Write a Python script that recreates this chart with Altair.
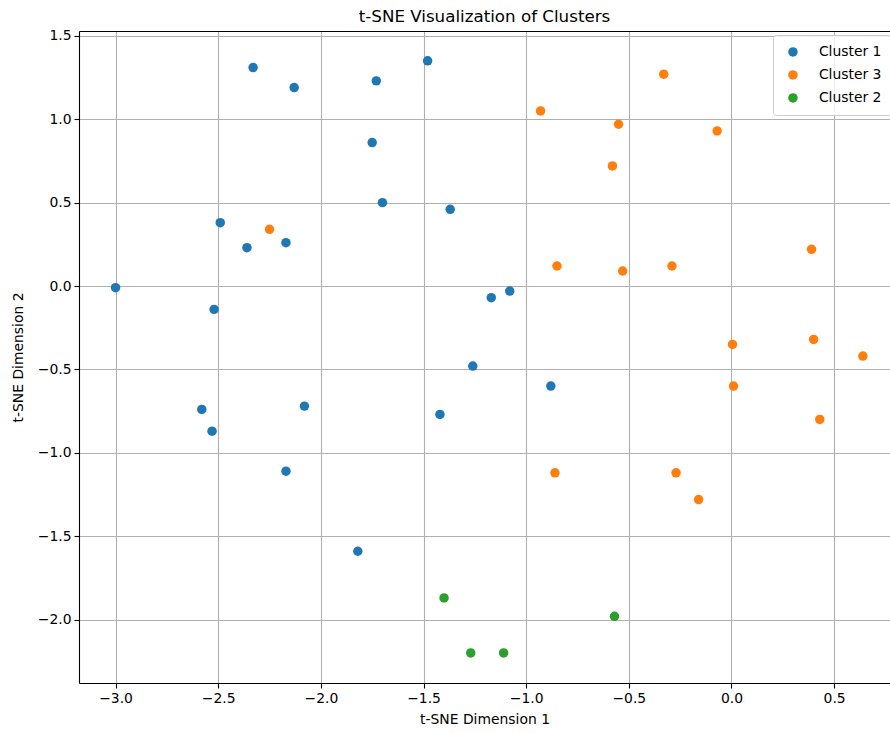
import altair as alt
import pandas as pd

# Cluster 1 (blue)
c1_x = [-3.00, -2.33, -2.13, -1.73, -1.48, -1.75, -1.70, -1.37, -2.49, -2.36, -2.17,
        -2.52, -2.58, -2.53, -2.08, -2.17, -1.17, -1.08, -1.26, -0.88, -1.42, -1.82]
c1_y = [-0.01, 1.31, 1.19, 1.23, 1.35, 0.86, 0.50, 0.46, 0.38, 0.23, 0.26,
        -0.14, -0.74, -0.87, -0.72, -1.11, -0.07, -0.03, -0.48, -0.60, -0.77, -1.59]
# Cluster 3 (orange)
c3_x = [-2.25, -0.93, -0.33, -0.55, -0.07, -0.58, -0.85, -0.53, -0.29, 0.39,
        0.005, 0.40, 0.64, 0.01, 0.43, -0.86, -0.27, -0.16]
c3_y = [0.34, 1.05, 1.27, 0.97, 0.93, 0.72, 0.12, 0.09, 0.12, 0.22,
        -0.35, -0.32, -0.42, -0.60, -0.80, -1.12, -1.12, -1.28]
# Cluster 2 (green)
c2_x = [-1.40, -1.27, -1.11, -0.57]
c2_y = [-1.87, -2.20, -2.20, -1.98]

cluster_names = ["Cluster 1", "Cluster 3", "Cluster 2"]
cluster_colors = ["#1f77b4", "#ff7f0e", "#2ca02c"]

rows = []
for name, xs, ys in [("Cluster 1", c1_x, c1_y), ("Cluster 3", c3_x, c3_y), ("Cluster 2", c2_x, c2_y)]:
    for a, b in zip(xs, ys):
        rows.append({"x": a, "y": b, "cluster": name})
df = pd.DataFrame(rows)

FONT = "DejaVu Sans"
xscale = alt.Scale(domain=[-3.178, 0.772], nice=False, zero=False)
yscale = alt.Scale(domain=[-2.380, 1.529], nice=False, zero=False)

points = alt.Chart(df).mark_circle(size=90, opacity=1).encode(
    x=alt.X("x:Q", scale=xscale,
            axis=alt.Axis(title="t-SNE Dimension 1", values=[-3.0, -2.5, -2.0, -1.5, -1.0, -0.5, 0.0, 0.5],
                          format=".1f")),
    y=alt.Y("y:Q", scale=yscale,
            axis=alt.Axis(title="t-SNE Dimension 2", values=[-2.0, -1.5, -1.0, -0.5, 0.0, 0.5, 1.0, 1.5],
                          format=".1f")),
    color=alt.Color("cluster:N",
                    scale=alt.Scale(domain=cluster_names, range=cluster_colors),
                    sort=cluster_names,
                    legend=alt.Legend(title=None, orient="none", legendX=694, legendY=4,
                                      symbolType="circle", symbolSize=90, symbolStrokeWidth=0,
                                      labelFontSize=13.9, labelFont=FONT, labelColor="#000000",
                                      labelOffset=19, rowPadding=8, padding=10,
                                      fillColor="rgba(255,255,255,0.8)", strokeColor="#cccccc",
                                      cornerRadius=3, zindex=2, symbolOffset=3)),
)

top = alt.Chart(df).mark_point(opacity=0).encode(
    x=alt.X("x:Q", scale=xscale,
            axis=alt.Axis(orient="top", labels=False, ticks=False, grid=False, title=None,
                          domain=True, domainColor="#000000", domainWidth=1.1)),
    y=alt.Y("y:Q", scale=yscale, axis=None),
)

chart = alt.layer(points, top).resolve_axis(x="independent", y="independent").properties(
    width=811, height=652,
    title=alt.TitleParams("t-SNE Visualization of Clusters", font=FONT, fontSize=16.7,
                          fontWeight="normal", color="#000000", anchor="middle", offset=3),
    autosize=alt.AutoSizeParams(type="none"),
    padding={"left": 79, "top": 31, "right": 0, "bottom": 50},
).configure_view(stroke=None).configure_axis(
    labelFont=FONT, labelFontSize=13.9, labelColor="#000000",
    titleFont=FONT, titleFontSize=13.9, titleFontWeight="normal", titleColor="#000000",
    domainColor="#000000", domainWidth=1.1,
    tickColor="#000000", tickSize=5, tickWidth=1.1, labelPadding=3,
    gridColor="#b0b0b0", gridWidth=1.1, gridOpacity=1, zindex=1,
).configure_axisX(titlePadding=8).configure_axisY(titlePadding=12)

chart.save("out.html", embed_options={"renderer": "svg", "actions": False})
